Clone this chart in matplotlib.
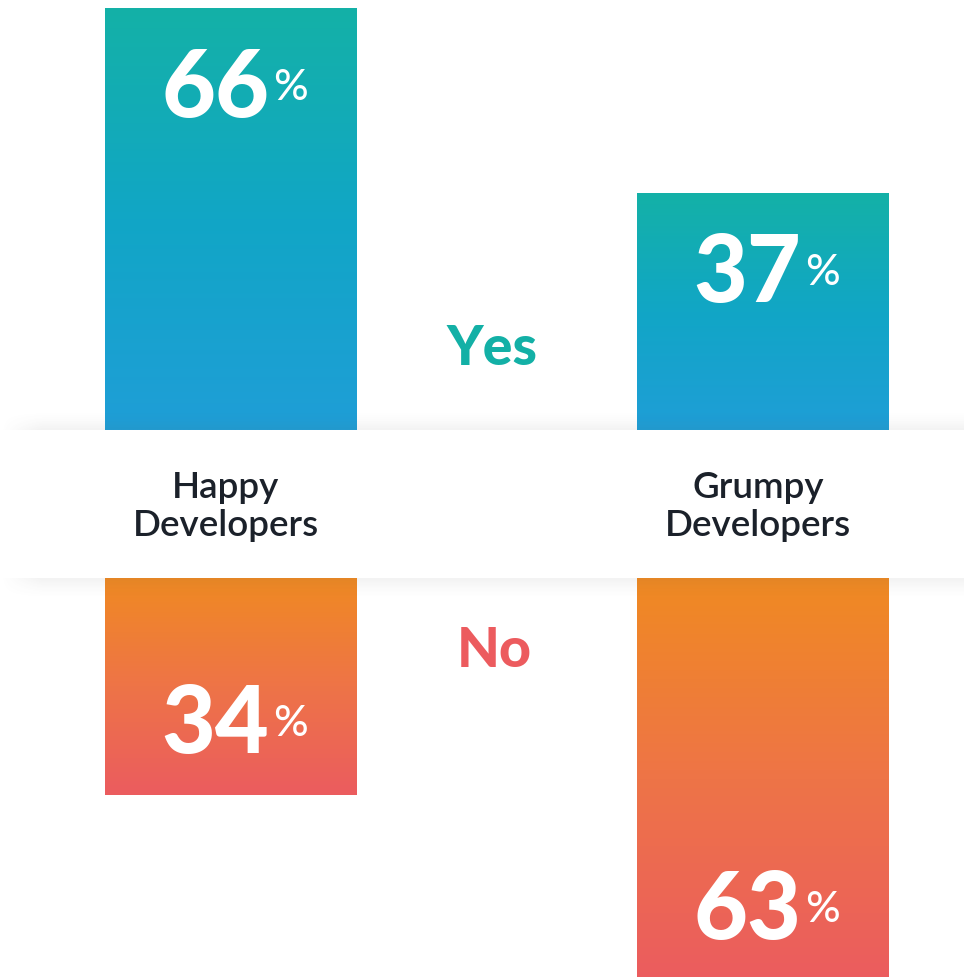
import matplotlib
matplotlib.use('Agg')
import matplotlib.pyplot as plt
import numpy as np
from matplotlib.colors import LinearSegmentedColormap
from matplotlib.transforms import blended_transform_factory

# ---------------- data ----------------
categories = ['Happy\nDevelopers', 'Grumpy\nDevelopers']
yes_values = [66, 37]
no_values = [34, 63]
series_labels = ['Yes', 'No']

# ---------------- style ----------------
W, H = 964, 977
FONT = 'Lato'
YES_COLOR = '#13B0A6'
NO_COLOR = '#EC5B5E'
TEXT_DARK = '#1B212A'
yes_cmap = LinearSegmentedColormap.from_list('yes', ['#1F9ED7', '#11A6C6', '#14B1A7'])
no_cmap = LinearSegmentedColormap.from_list('no', ['#F08A22', '#EE7447', '#EB5C5F'])

fig = plt.figure(figsize=(W / 100, H / 100), dpi=100)
fig.patch.set_facecolor('white')

band_top, band_bot = 430, 578
top_px = 8
xpos = np.arange(len(categories))
xlim = (-0.434, 1.377)
bar_w = 0.473


def fig_rect(top_pixel, bottom_pixel):
    return [0, 1 - bottom_pixel / H, 1, (bottom_pixel - top_pixel) / H]


ax_top = fig.add_axes(fig_rect(top_px, band_top), zorder=1)
ax_bot = fig.add_axes(fig_rect(band_bot, H), zorder=1)
ymax_top = max(yes_values)
scale = (band_top - top_px) / ymax_top  # pixels per percent
ymax_bot = (H - band_bot) / scale


def gradient_bars(ax, values, cmap):
    bars = ax.bar(xpos, values, width=bar_w, color='none', linewidth=0, zorder=1)
    g = np.linspace(0, 1, 256).reshape(-1, 1)
    for rect in bars:
        x0, y0 = rect.get_x(), rect.get_y()
        w, h = rect.get_width(), rect.get_height()
        im = ax.imshow(g, extent=[x0, x0 + w, y0, y0 + h], origin='lower',
                       aspect='auto', cmap=cmap, zorder=2, interpolation='bilinear')
        im.set_clip_path(rect)
    return bars


gradient_bars(ax_top, yes_values, yes_cmap)
gradient_bars(ax_bot, no_values, no_cmap)

ax_top.set_xlim(*xlim)
ax_top.set_ylim(0, ymax_top)
ax_bot.set_xlim(*xlim)
ax_bot.set_ylim(ymax_bot, 0)
for ax in (ax_top, ax_bot):
    ax.axis('off')
    ax.patch.set_alpha(0)

NUM_KW = dict(textcoords='offset pixels', ha='right', va='baseline', fontsize=67,
              fontweight='black', color='white', family=FONT,
              annotation_clip=False, zorder=5)
PCT_KW = dict(textcoords='offset pixels', ha='left', va='baseline', fontsize=31,
              fontweight='medium', color='white', family=FONT,
              annotation_clip=False, zorder=5)

# value labels
for x, v in zip(xpos, yes_values):
    ax_top.annotate(f'{v}', xy=(x, v), xytext=(38, -109), **NUM_KW)
    ax_top.annotate('%', xy=(x, v), xytext=(42, -92), **PCT_KW)
for x, v in zip(xpos, no_values):
    ax_bot.annotate(f'{v}', xy=(x, v), xytext=(38, 42), **NUM_KW)
    ax_bot.annotate('%', xy=(x, v), xytext=(42, 59), **PCT_KW)

# ---------------- band with shadow ----------------
ov = fig.add_axes([0, 0, 1, 1], zorder=3)
ov.axis('off')
ov.patch.set_alpha(0)

xr = np.clip(np.linspace(0, W, 400) / 40.0, 0, 1)
for (y0, y1, a0, a1) in [(410, band_top, 0.0, 0.20), (band_bot, 600, 0.20, 0.0)]:
    yr = np.linspace(a0, a1, 64) ** 1.6
    alpha = np.outer(yr, xr)
    rgba = np.zeros((64, 400, 4))
    rgba[..., :3] = 0.35
    rgba[..., 3] = alpha
    ov.imshow(rgba, extent=[0, W, y1, y0], origin='upper', aspect='auto',
              interpolation='bilinear', zorder=1)
ov.add_patch(plt.Rectangle((0, band_top), W, band_bot - band_top,
                           facecolor='white', edgecolor='none', zorder=2))
ov.set_xlim(0, W)
ov.set_ylim(H, 0)

# series labels
fig.text(492 / W, 1 - 365 / H, series_labels[0], ha='center', va='baseline',
         fontsize=40, fontweight='black', color=YES_COLOR, family=FONT, zorder=10)
fig.text(494 / W, 1 - 667 / H, series_labels[1], ha='center', va='baseline',
         fontsize=40, fontweight='black', color=NO_COLOR, family=FONT, zorder=10)

# category labels
tr = blended_transform_factory(ax_top.transData, fig.transFigure)
for x, cat in zip(xpos, categories):
    lines = cat.split('\n')
    for i, line in enumerate(lines):
        fig.text(x - 0.01, 1 - (498 + 38 * i) / H, line, transform=tr, ha='center',
                 va='baseline', fontsize=26.5, fontweight='semibold',
                 color=TEXT_DARK, family=FONT, zorder=10)

fig.savefig('out.png', dpi=100, facecolor='white')
